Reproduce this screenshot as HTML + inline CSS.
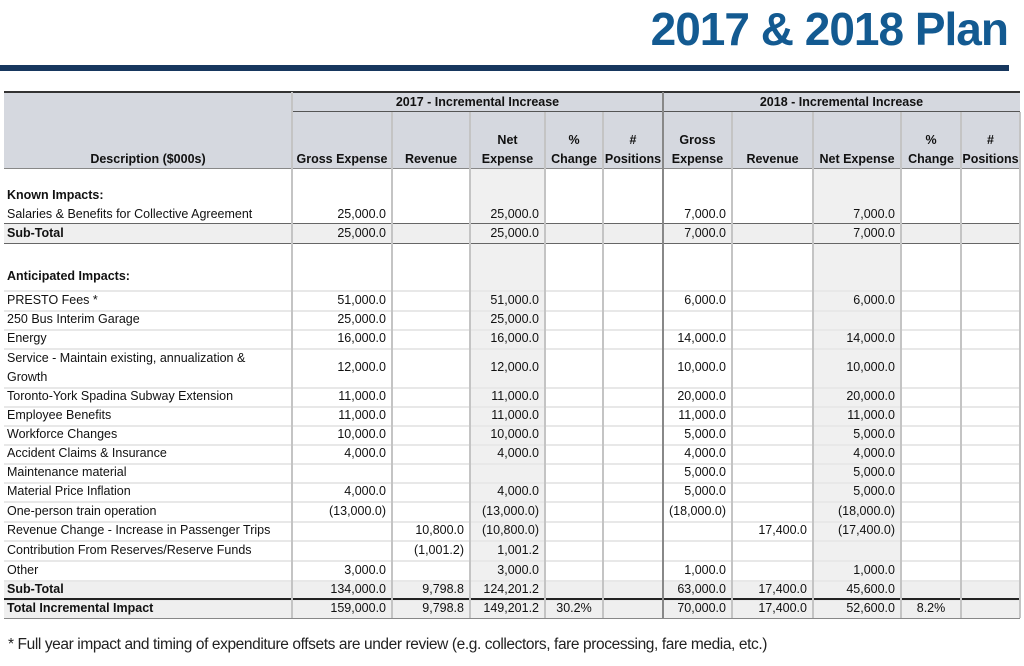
<!DOCTYPE html>
<html><head><meta charset="utf-8">
<style>
html,body{margin:0;padding:0;width:1024px;height:666px;background:#fff;overflow:hidden;position:relative;font-family:"Liberation Sans",sans-serif;}
.t{position:absolute;font-size:12.5px;color:#111;white-space:nowrap;line-height:19px;}
.b{font-weight:bold;}
.r{text-align:right;}
.c{text-align:center;}
.ln{position:absolute;}
</style></head><body>
<div style="position:absolute;left:600px;top:2px;width:408px;text-align:right;font-size:46px;font-weight:bold;color:#135a91;letter-spacing:-1px;line-height:54px;">2017 &amp; 2018 Plan</div>
<div style="position:absolute;left:0;top:65px;width:1009px;height:6px;background:#17375e;"></div>
<div id="tbl"></div>
<div style="position:absolute;left:8px;top:636px;font-size:15.5px;color:#222;letter-spacing:-0.4px;">* Full year impact and timing of expenditure offsets are under review (e.g. collectors, fare processing, fare media, etc.)</div>
<script>
const cols=[4,292,392,470,545,603,663,732,813,901,961,1020];
const rowNames=["Known Impacts:","Salaries & Benefits for Collective Agreement","Sub-Total","Anticipated Impacts:","PRESTO Fees *","250 Bus Interim Garage","Energy","Service - Maintain existing, annualization & Growth","Toronto-York Spadina Subway Extension","Employee Benefits","Workforce Changes","Accident Claims & Insurance","Maintenance material","Material Price Inflation","One-person train operation","Revenue Change - Increase in Passenger Trips","Contribution From Reserves/Reserve Funds","Other","Sub-Total","Total Incremental Impact"];
const rowTop=[186,205,224,243,290,310,329,348,387,406,425,444,463,482,501,521,540,560,580,599];
const rowH=[19,19,19,47,20,19,19,39,19,19,19,19,19,19,20,19,20,20,19,19];
const g17=["","25,000.0","25,000.0","","51,000.0","25,000.0","16,000.0","12,000.0","11,000.0","11,000.0","10,000.0","4,000.0","","4,000.0","(13,000.0)","","","3,000.0","134,000.0","159,000.0"];
const r17=["","","","","","","","","","","","","","","","10,800.0","(1,001.2)","","9,798.8","9,798.8"];
const n17=["","25,000.0","25,000.0","","51,000.0","25,000.0","16,000.0","12,000.0","11,000.0","11,000.0","10,000.0","4,000.0","","4,000.0","(13,000.0)","(10,800.0)","1,001.2","3,000.0","124,201.2","149,201.2"];
const p17=["","","","","","","","","","","","","","","","","","","","30.2%"];
const g18=["","7,000.0","7,000.0","","6,000.0","","14,000.0","10,000.0","20,000.0","11,000.0","5,000.0","4,000.0","5,000.0","5,000.0","(18,000.0)","","","1,000.0","63,000.0","70,000.0"];
const r18=["","","","","","","","","","","","","","","","17,400.0","","","17,400.0","17,400.0"];
const n18=["","7,000.0","7,000.0","","6,000.0","","14,000.0","10,000.0","20,000.0","11,000.0","5,000.0","4,000.0","5,000.0","5,000.0","(18,000.0)","(17,400.0)","","1,000.0","45,600.0","52,600.0"];
const p18=["","","","","","","","","","","","","","","","","","","","8.2%"];
const boldRows=[0,2,3,18,19];
const shadedRows=[2,18,19];
const T=document.getElementById('tbl');
function box(x,y,w,h,bg,name){const d=document.createElement('div');d.className='ln';d.style.cssText=`left:${x}px;top:${y}px;width:${w}px;height:${h}px;background:${bg};`;


T.appendChild(d);return d;}
function txt(x,y,w,s,cls,name,lh){const d=document.createElement('div');d.className='t '+cls;d.style.left=x+'px';d.style.top=y+'px';d.style.width=w+'px';if(lh)d.style.lineHeight=lh;d.textContent=s;


T.appendChild(d);return d;}
box(4,92,1016,76,'#d5d8df','header-background');
box(cols[3],168,cols[4]-cols[3],450,'#f0f0f0','net-2017-shade');
box(cols[8],168,cols[9]-cols[8],450,'#f0f0f0','net-2018-shade');
shadedRows.forEach(i=>{box(4,rowTop[i],1016,rowH[i],'#efefef','subtotal-shade');});
for(let i=4;i<rowTop.length;i++){box(4,rowTop[i],1016,2,'#e8e8e8','row-gridline');}
box(4,91,1016,2,'#333','header-top-border');
box(292,111,728,1,'#555','header-group-border');
box(4,168,1016,1,'#888','header-bottom-border');
box(4,223,1016,1,'#666','subtotal-border');
box(4,243,1016,1,'#666','subtotal-border');
box(4,598,1016,2,'#222','total-border');
box(4,618,1016,1,'#888','table-bottom-border');
for(let i=1;i<cols.length;i++){const top=(i==1||i==6)?92:112;box(cols[i]-1,top,2,618-top,i==6?'#888':'#c4c4c4','column-gridline');}
txt(292,94,371,'2017 - Incremental Increase','b c','header-2017',"17px");
txt(663,94,357,'2018 - Incremental Increase','b c','header-2018',"17px");
txt(4,150,288,'Description ($000s)','b c','header-description',"19px");
const hd=[["Gross Expense"],["Revenue"],["Net","Expense"],["%","Change"],["#","Positions"],["Gross","Expense"],["Revenue"],["Net Expense"],["%","Change"],["#","Positions"]];
hd.forEach((h,k)=>{const x=cols[k+1],w=cols[k+2]-cols[k+1];if(h.length==1)txt(x,150,w,h[0],'b c','column-header');else{txt(x,131,w,h[0],'b c','column-header');txt(x,150,w,h[1],'b c','column-header');}});
rowNames.forEach((n,i)=>{
 const y=rowTop[i]+(rowH[i]-19)/2+(i==3?10:0);
 const bold=boldRows.includes(i)?'b':'';
 if(i==7){txt(7,rowTop[i]+1,285,'Service - Maintain existing, annualization &','','row-label','19px');txt(7,rowTop[i]+20,285,'Growth','','row-label','19px');}
 else txt(7,i==0?rowTop[i]:y,285,n,bold,'row-label');
 const vals=[g17[i],r17[i],n17[i],p17[i],"",g18[i],r18[i],n18[i],p18[i],""];
 vals.forEach((v,k)=>{if(!v)return;const x=cols[k+1],w=cols[k+2]-cols[k+1];
  const pct=(k==3||k==8);
  txt(x,y,pct?w:w-6,v,pct?'c':'r','cell-value');});
});
</script>
</body></html>
